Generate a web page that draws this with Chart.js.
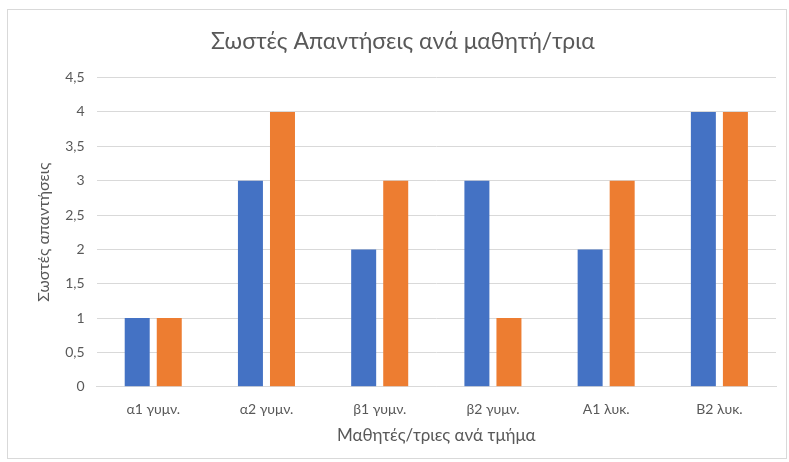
<!DOCTYPE html>
<html>
<head>
<meta charset="utf-8">
<script src="https://cdn.jsdelivr.net/npm/chart.js@4"></script>
<style>
html,body{margin:0;padding:0;background:#fff;}
#wrap{position:absolute;left:7px;top:9px;width:780px;height:450px;border:1px solid #d9d9d9;box-sizing:border-box;}
canvas{display:block;}
</style>
</head>
<body>
<div id="wrap"><canvas id="c"></canvas></div>
<script>
const categories = ["α1 γυμν.", "α2 γυμν.", "β1 γυμν.", "β2 γυμν.", "Α1 λυκ.", "Β2 λυκ."];
const seriesBlue = [1, 3, 2, 3, 2, 4];
const seriesOrange = [1, 4, 3, 1, 3, 4];
const titleText = "Σωστές Απαντήσεις ανά μαθητή/τρια";
const yTitle = "Σωστές απαντήσεις";
const xTitle = "Μαθητές/τριες ανά τμήμα";

const FONT = "Lato, 'Open Sans', sans-serif";
const TXT = "#595959";

new Chart(document.getElementById('c'), {
  type: 'bar',
  data: {
    labels: categories,
    datasets: [
      { label: 'Σειρά 1', data: seriesBlue, backgroundColor: '#4472C4' },
      { label: 'Σειρά 2', data: seriesOrange, backgroundColor: '#ED7D31' }
    ]
  },
  options: {
    responsive: true,
    maintainAspectRatio: false,
    animation: false,
    layout: { padding: { left: 22, right: 10, top: 10, bottom: 8 } },
    datasets: { bar: { categoryPercentage: 0.566, barPercentage: 0.78 } },
    plugins: {
      legend: { display: false },
      tooltip: { enabled: false },
      title: {
        display: true,
        text: titleText,
        color: TXT,
        font: { family: FONT, size: 23, weight: 'normal' },
        padding: { top: 8, bottom: 22 }
      }
    },
    scales: {
      x: {
        grid: { display: false, drawTicks: false },
        border: { display: true, color: '#d9d9d9' },
        ticks: { color: TXT, font: { family: FONT, size: 14 }, padding: 14 },
        title: { display: true, text: xTitle, color: TXT, font: { family: FONT, size: 17 }, padding: { top: -6 } }
      },
      y: {
        min: 0, max: 4.5,
        grid: { color: '#d9d9d9', drawTicks: false },
        border: { display: false },
        ticks: {
          stepSize: 0.5, color: TXT, font: { family: FONT, size: 14 }, padding: 12,
          callback: v => String(v).replace('.', ',')
        },
        title: { display: true, text: yTitle, color: TXT, font: { family: FONT, size: 16 }, padding: { bottom: 0 } }
      }
    }
  }
});
</script>
</body>
</html>
